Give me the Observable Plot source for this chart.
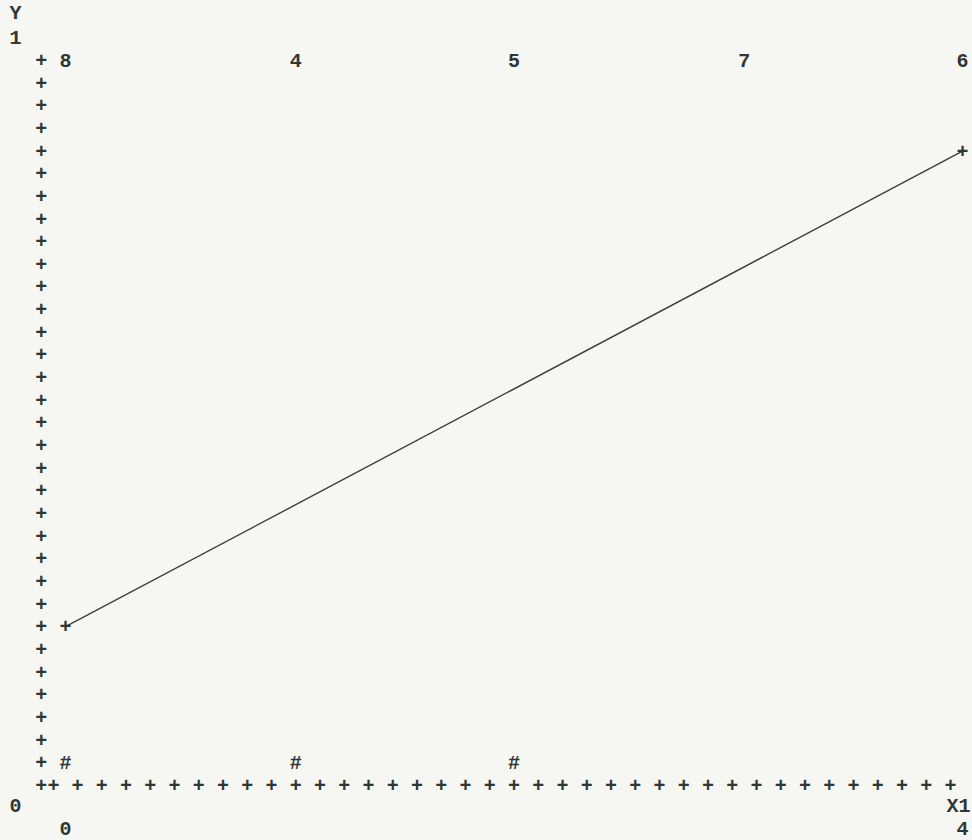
<!DOCTYPE html>
<html>
<head>
<meta charset="utf-8">
<script src="https://cdn.jsdelivr.net/npm/d3@7"></script>
<script src="https://cdn.jsdelivr.net/npm/@observablehq/plot@0.6"></script>
<style>
  html, body { margin: 0; padding: 0; background: #f6f6f2; }
  #chart { width: 972px; height: 840px; }
</style>
</head>
<body>
<div id="chart"></div>
<script>
// ---- data (x in X1 units 0..4, y in Y1 units 0..1) ----
const topLabels  = ["8", "4", "5", "7", "6"];
const topLabelX  = [0, 1.027, 2, 3.027, 4];
const topLabelY  = [1, 1, 1, 1, 1];

const pointX = [0, 1.027, 2];          // "#" observations
const pointY = [0.031, 0.031, 0.031];

const lineX = [0, 4];                   // fitted line end points
const lineY = [0.219, 0.875];

// axis texts
const axisTexts  = ["Y", "1", "0", "0", "X1", "4"];
const axisTextX  = [-0.223, -0.223, -0.223, 0, 3.982, 4];
const axisTextY  = [1.066, 1.032, -0.028, -0.059, -0.028, -0.059];

// character-plot axis grid ("+" crosses)
const yAxisX = -0.108;
const yAxisRows = d3.range(0, 33).map(r => r / 32);          // 33 rows
const xAxisY = 0;
const xAxisCols = d3.range(0, 75, 2).map(k => (k - 1) / 18.5); // 38 columns

const font = "'Liberation Mono', 'DejaVu Sans Mono', monospace";
const ink = "#2f3735";

const topData = topLabels.map((t, i) => ({t, x: topLabelX[i], y: topLabelY[i]}));
const pts = pointX.map((x, i) => ({x, y: pointY[i]}));
const line = lineX.map((x, i) => ({x, y: lineY[i]}));
const axisData = axisTexts.map((t, i) => ({t, x: axisTextX[i], y: axisTextY[i]}));

const textOpts = {fontFamily: font, fontSize: 20, fontWeight: "bold", fill: ink};

const chart = Plot.plot({
  width: 972,
  height: 840,
  marginLeft: 65,
  marginRight: 10,
  marginTop: 60,
  marginBottom: 55,
  x: {domain: [0, 4], axis: null},
  y: {domain: [0, 1], axis: null},
  style: {background: "#f6f6f2", overflow: "visible"},
  marks: [
    Plot.line(line, {x: "x", y: "y", stroke: "#3a3f3e", strokeWidth: 1.4}),
    Plot.text(yAxisRows, {x: () => yAxisX, y: d => d, text: () => "+", ...textOpts}),
    Plot.text(xAxisCols, {x: d => d, y: () => xAxisY, text: () => "+", ...textOpts}),
    Plot.text(line, {x: "x", y: "y", text: () => "+", ...textOpts}),
    Plot.text(pts, {x: "x", y: "y", text: () => "#", ...textOpts}),
    Plot.text(topData, {x: "x", y: "y", text: "t", ...textOpts}),
    Plot.text(axisData, {x: "x", y: "y", text: "t", ...textOpts})
  ]
});
document.getElementById("chart").append(chart);
</script>
</body>
</html>
